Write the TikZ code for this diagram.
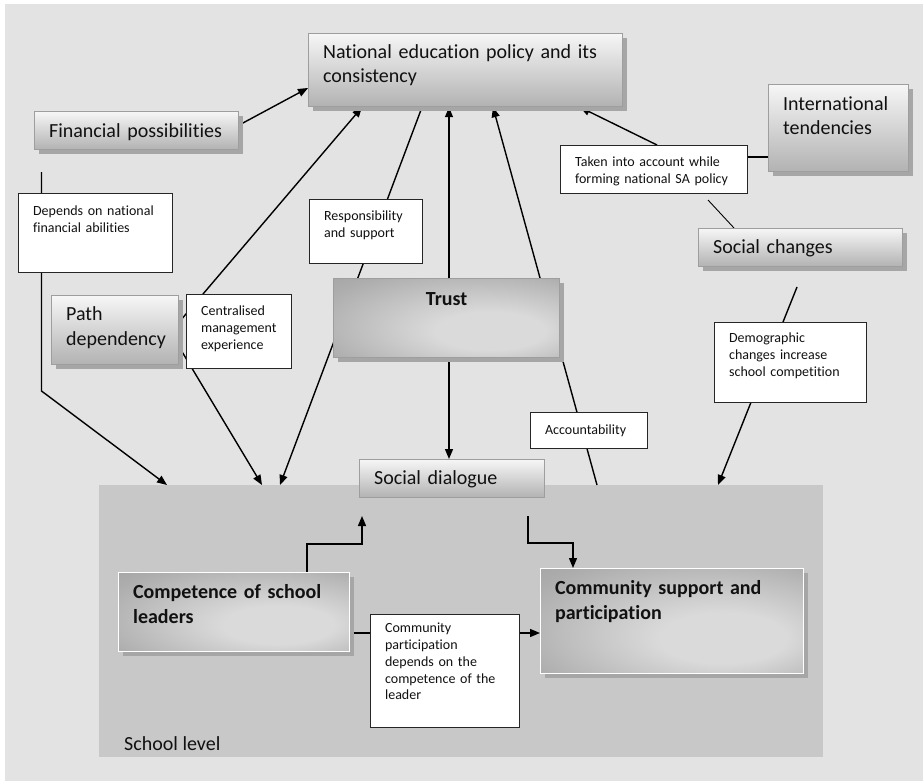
\documentclass[tikz,border=0pt]{standalone}
\usepackage{fontspec}
\setmainfont{Carlito}[Ligatures=NoCommon]
\usetikzlibrary{arrows.meta,shadows,backgrounds}
\definecolor{cBg}{HTML}{E3E3E3}
\definecolor{cSchool}{HTML}{C8C8C8}
\definecolor{cEdge}{HTML}{9E9E9E}
\definecolor{cShadow}{HTML}{A6A6A6}
\definecolor{cTop}{HTML}{F6F6F6}
\definecolor{cBot}{HTML}{B2B2B2}
\definecolor{cLite}{HTML}{DADADA}
\definecolor{cMid}{HTML}{ADADAD}
\definecolor{cDark}{HTML}{8E8E8E}
\definecolor{cInk}{HTML}{111111}
\newcommand\bigtxt{\fontsize{20}{24.4}\selectfont}
\newcommand\smalltxt{\fontsize{14}{16.8}\selectfont}
\pgfdeclareradialshading{chrome}{\pgfpoint{12bp}{-10bp}}{color(0bp)=(cLite); color(12bp)=(cLite); color(36bp)=(cMid); color(62bp)=(cDark)}
\tikzset{
  box/.style={anchor=north west,inner xsep=0pt,inner ysep=0pt,align=left,text=cInk},
  padl/.style={execute at begin node={\leftskip=14.5pt}},
  dims/.style n args={3}{text width=#1pt,text height=#2pt,text depth=#3pt},
  shad/.style={drop shadow={shadow xshift=4pt,shadow yshift=-4pt,fill=cShadow,opacity=1}},
  gbox/.style={box,padl,draw=cEdge,line width=1.2pt,top color=cTop,bottom color=cBot,font=\bigtxt},
  cbox/.style={gbox,shad},
  kbox/.style={box,draw=cEdge,line width=1.2pt,shading=chrome,font=\bigtxt\bfseries,shad},
  lkbox/.style={kbox,padl,draw=white},
  lbl/.style={box,padl,draw=black!85,line width=1.2pt,fill=white,font=\smalltxt},
  arr/.style={-{Triangle[length=10pt,width=8pt]},line width=1.4pt},
  darr/.style={{Triangle[length=10pt,width=8pt]}-{Triangle[length=10pt,width=8pt]},line width=1.4pt},
  ln/.style={line width=1.4pt},
  thinln/.style={line width=0.9pt},
}
\begin{document}
\begin{tikzpicture}[x=1pt,y=-1pt]
  \useasboundingbox (0,0) rectangle (923,781);
  % national level
  \node[cbox,dims={314}{25}{48}] (nat) at (308,33) {National education policy and its\\consistency};
  \node[cbox,dims={204}{26}{12}] (fin) at (34,111) {Financial possibilities};
  \node[cbox,dims={140}{26}{61}] (intl) at (768,84) {International\\tendencies};
  \node[lbl,dims={187}{21}{27}] (taken) at (560,145) {Taken into account while\\forming national SA policy};
  \node[cbox,dims={204}{25}{13}] (socch) at (698,228) {Social changes};
  \node[lbl,dims={154}{22}{57}] (dep) at (18,193) {Depends on national\\financial abilities};
  \node[lbl,dims={113}{21}{43}] (resp) at (309,199) {Responsibility\\and support};
  \node[cbox,dims={127}{25}{44}] (path) at (51,295) {Path\\dependency};
  \node[lbl,dims={105}{21}{53}] (cent) at (186,294) {Centralised\\management\\experience};
  \node[kbox,dims={226}{27}{52},align=center] (trust) at (333,278) {Trust};
  \node[lbl,dims={117}{22}{14}] (acc) at (530,412) {Accountability};
  \node[lbl,dims={152}{20}{60}] (demo) at (714,322) {Demographic\\changes increase\\school competition};
  \node[gbox,dims={185}{25}{13}] (socd) at (359,459) {Social dialogue};
  % school level
  \node[lkbox,dims={231}{26}{53}] (comp) at (118,572) {Competence of school\\leaders};
  \node[lkbox,dims={263}{26}{79}] (commsp) at (540,568) {Community support and\\participation};
  \node[lbl,dims={149}{18}{95}] (cpart) at (370,614) {Community\\participation\\depends on the\\competence of the\\leader};
  \begin{scope}[on background layer]
    \fill[cBg] (5,4) rectangle (923,781);
    \node[anchor=north west,fill=cSchool,minimum width=724pt,minimum height=272pt,inner sep=0pt] (school) at (99,485) {};
    \node[anchor=base west,font=\bigtxt,text=cInk,inner sep=0pt] (schlbl) at (124,750) {School level};
    \coordinate (finlow) at (41.5,172);
    \coordinate (depbend) at (41.5,391);
    \coordinate (takenlow) at (708,200);
    \coordinate (soclow) at (797,287);
    \coordinate (compup) at (362,516);
    \coordinate (socdlow) at (528,516);
    % connectors
    \draw[arr] (fin.east |- 0,125) -- (nat.west |- 0,88);
    \draw[arr] (path.east |- 0,322) -- (nat.south -| 362,0);
    \draw[arr] (path.east |- 0,347) -- (school.north -| 262,0);
    \draw[arr] (finlow) -- (depbend) -- (school.north -| 167,0);
    \draw[arr] (nat.south -| 422,0) -- (school.north -| 280,0);
    \draw[darr] (nat.south -| 449,0) -- (socd.north -| 449,0);
    \draw[arr] (school.north -| 597,0) -- (nat.south -| 493,0);
    \draw[arr] (taken.north -| 657,0) -- (nat.south -| 580,0);
    \draw[ln] (intl.west |- 0,157) -- (taken.east |- 0,157);
    \draw[thinln] (takenlow) -- (socch.north -| 734,0);
    \draw[arr] (soclow) -- (school.north -| 718,0);
    \draw[arr] (comp.north -| 307,0) -- ++(0,-28) -| (compup);
    \draw[arr] (socdlow) -- ++(0,27) -| (commsp.north -| 573,0);
    \draw[ln] (comp.east |- 0,633) -- (cpart.west |- 0,633);
    \draw[arr] (cpart.east |- 0,633) -- (commsp.west |- 0,633);
  \end{scope}
\end{tikzpicture}
\end{document}
